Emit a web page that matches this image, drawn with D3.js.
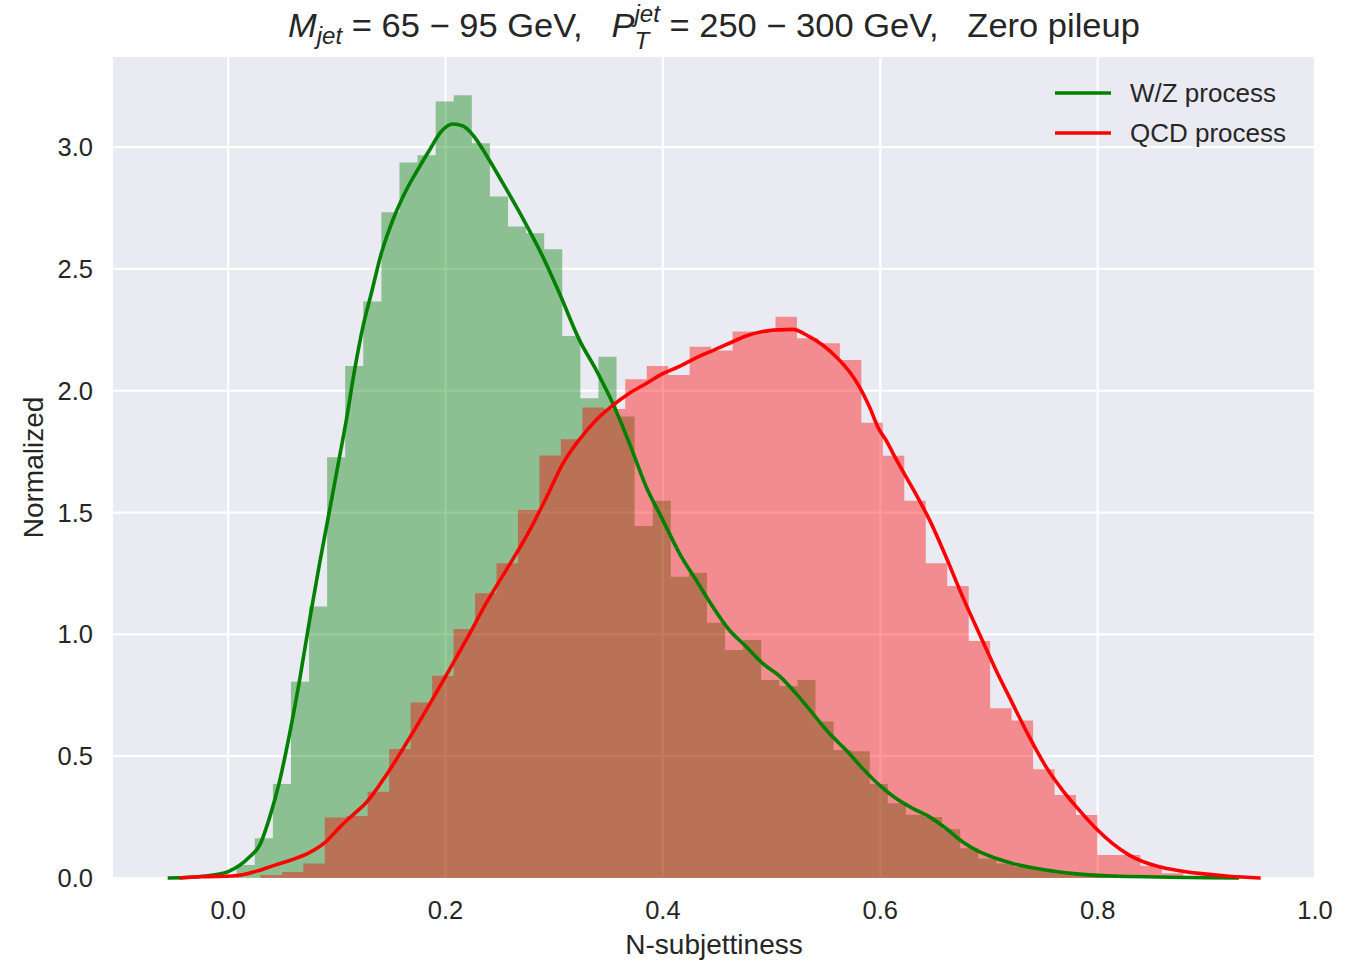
<!DOCTYPE html>
<html>
<head>
<meta charset="utf-8">
<script src="https://d3js.org/d3.v7.min.js"></script>
<style>
  body { margin: 0; background: #fff; }
</style>
</head>
<body>
<div id="chart"></div>
<script>
// W/Z process histogram (normalized), equal bins
var wzStart = 0.0078, wzWidth = 0.016644;
var wzHist = [0.053, 0.163, 0.386, 0.806, 1.114, 1.727, 2.102, 2.366, 2.733, 2.937,
              2.967, 3.187, 3.213, 3.016, 2.797, 2.674, 2.647, 2.581, 2.225, 1.969,
              2.140, 1.894, 1.445, 1.549, 1.237, 1.253, 1.048, 0.936, 0.977, 0.813,
              0.788, 0.813, 0.642, 0.525, 0.520, 0.386, 0.307, 0.260, 0.250, 0.200,
              0.122, 0.080, 0.060, 0.045, 0.035, 0.025, 0.018, 0.012, 0.008, 0.005];

// QCD process histogram
var qcdStart = 0.0296, qcdWidth = 0.01975;
var qcdHist = [0.012, 0.025, 0.060, 0.248, 0.255, 0.354, 0.530, 0.720, 0.830, 1.022,
               1.169, 1.292, 1.511, 1.734, 1.801, 1.931, 1.925, 2.047, 2.102, 2.065,
               2.181, 2.165, 2.243, 2.240, 2.304, 2.216, 2.195, 2.126, 1.869, 1.733,
               1.549, 1.292, 1.199, 0.973, 0.697, 0.646, 0.446, 0.341, 0.259, 0.094,
               0.094, 0.050, 0.020, 0.008];

// kernel density curves
var wzKdeX = [-0.0557, -0.035, -0.017, 0.0, 0.0198, 0.029, 0.0382, 0.0474, 0.0566, 0.0657,
              0.0749, 0.0841, 0.0933, 0.1025, 0.1087, 0.1163, 0.124, 0.1317, 0.1409, 0.1515,
              0.1639, 0.1761, 0.1853, 0.196, 0.2067, 0.2159, 0.2251, 0.2374, 0.2527, 0.2711,
              0.2895, 0.3048, 0.3232, 0.3386, 0.3538, 0.3692, 0.3846, 0.3998, 0.4152, 0.4305,
              0.4458, 0.4611, 0.4765, 0.4918, 0.5071, 0.5224, 0.5377, 0.5531, 0.5684, 0.5837,
              0.599, 0.6143, 0.6297, 0.645, 0.6603, 0.6756, 0.691, 0.7063, 0.7216, 0.7522,
              0.7829, 0.8136, 0.8566, 0.90, 0.93];
var wzKdeY = [0.0, 0.003, 0.010, 0.026, 0.087, 0.135, 0.25, 0.40, 0.594, 0.813,
              1.059, 1.292, 1.51, 1.73, 1.88, 2.085, 2.263, 2.40, 2.564, 2.701,
              2.824, 2.92, 2.988, 3.064, 3.095, 3.087, 3.05, 2.968, 2.852, 2.708,
              2.55, 2.40, 2.208, 2.085, 1.949, 1.784, 1.606, 1.47, 1.333, 1.223,
              1.114, 1.018, 0.95, 0.881, 0.83, 0.758, 0.676, 0.594, 0.525, 0.45,
              0.382, 0.327, 0.286, 0.252, 0.204, 0.149, 0.108, 0.081, 0.06, 0.033,
              0.016, 0.008, 0.004, 0.001, 0.0];

var qcdKdeX = [-0.045, -0.026, 0.004, 0.0276, 0.0428, 0.0581, 0.0734, 0.0889, 0.1041, 0.1163,
               0.1271, 0.1455, 0.1639, 0.1823, 0.2007, 0.219, 0.2374, 0.2558, 0.2742, 0.2926,
               0.3078, 0.3232, 0.3386, 0.3538, 0.3692, 0.3846, 0.3998, 0.4152, 0.4305, 0.4458,
               0.4611, 0.4765, 0.4918, 0.5071, 0.5193, 0.5347, 0.5469, 0.5593, 0.5715, 0.5807,
               0.5899, 0.5991, 0.6052, 0.6144, 0.6297, 0.6453, 0.6604, 0.6757, 0.691, 0.7064,
               0.7216, 0.737, 0.7524, 0.7676, 0.783, 0.7983, 0.8136, 0.829, 0.8566, 0.875,
               0.8933, 0.9209, 0.95];
var qcdKdeY = [0.0, 0.005, 0.008, 0.030, 0.053, 0.074, 0.101, 0.145, 0.215, 0.265,
               0.31, 0.423, 0.553, 0.69, 0.833, 0.977, 1.128, 1.264, 1.401, 1.56,
               1.70, 1.80, 1.88, 1.94, 1.99, 2.03, 2.07, 2.10, 2.135, 2.165,
               2.195, 2.225, 2.243, 2.25, 2.252, 2.222, 2.188, 2.14, 2.079, 2.017,
               1.935, 1.839, 1.798, 1.72, 1.60, 1.47, 1.319, 1.155, 1.004, 0.854,
               0.717, 0.58, 0.457, 0.361, 0.279, 0.204, 0.142, 0.094, 0.046, 0.03,
               0.019, 0.007, 0.0];

var xTicks = [0.0, 0.2, 0.4, 0.6, 0.8, 1.0];
var yTicks = [0.0, 0.5, 1.0, 1.5, 2.0, 2.5, 3.0];
var seriesNames = ["W/Z process", "QCD process"];
var seriesColors = ["green", "red"];

var svg = d3.select("#chart").append("svg")
  .attr("width", 1363)
  .attr("height", 961);

var margin = {top: 57, right: 48, bottom: 83, left: 113};
var width = 1363 - margin.left - margin.right;
var height = 961 - margin.top - margin.bottom;

var x = d3.scaleLinear().domain([-0.106, 1.0]).range([0, width]);
var y = d3.scaleLinear().domain([0, 3.37]).range([height, 0]);

var g = svg.append("g")
  .attr("transform", "translate(" + margin.left + "," + margin.top + ")");

// background + grid
g.append("rect")
  .attr("width", width)
  .attr("height", height)
  .attr("fill", "#eaeaf2");

g.selectAll(".vgrid")
  .data(xTicks)
  .enter().append("line")
  .attr("x1", d => x(d)).attr("x2", d => x(d))
  .attr("y1", 0).attr("y2", height)
  .attr("stroke", "#fff").attr("stroke-width", 2.2);

g.selectAll(".hgrid")
  .data(yTicks)
  .enter().append("line")
  .attr("x1", 0).attr("x2", width)
  .attr("y1", d => y(d)).attr("y2", d => y(d))
  .attr("stroke", "#fff").attr("stroke-width", 2.2);

// histogram as a step outline so bars have no seams
function histPoints(start, w, vals) {
  var pts = vals.map((v, i) => [start + i * w, v]);
  pts.push([start + vals.length * w, vals[vals.length - 1]]);
  return pts;
}

var histArea = d3.area()
  .x(d => x(d[0]))
  .y0(y(0))
  .y1(d => y(d[1]))
  .curve(d3.curveStepAfter);

g.append("path")
  .datum(histPoints(wzStart, wzWidth, wzHist))
  .attr("d", histArea)
  .attr("fill", "green")
  .attr("fill-opacity", 0.4);

g.append("path")
  .datum(histPoints(qcdStart, qcdWidth, qcdHist))
  .attr("d", histArea)
  .attr("fill", "red")
  .attr("fill-opacity", 0.4);

// kde lines
var kdeLine = d3.line()
  .x(d => x(d[0]))
  .y(d => y(d[1]))
  .curve(d3.curveMonotoneX);

g.append("path")
  .datum(d3.zip(wzKdeX, wzKdeY))
  .attr("d", kdeLine)
  .attr("fill", "none")
  .attr("stroke", "green")
  .attr("stroke-width", 3.6)
  .attr("stroke-linejoin", "round");

g.append("path")
  .datum(d3.zip(qcdKdeX, qcdKdeY))
  .attr("d", kdeLine)
  .attr("fill", "none")
  .attr("stroke", "red")
  .attr("stroke-width", 3.6)
  .attr("stroke-linejoin", "round");

// tick labels
var font = "'Liberation Sans', Arial, sans-serif";
g.selectAll(".xt")
  .data(xTicks)
  .enter().append("text")
  .attr("x", d => x(d))
  .attr("y", height + 41)
  .attr("text-anchor", "middle")
  .style("font-family", font)
  .style("font-size", "25.5px")
  .style("fill", "#262626")
  .text(d => d.toFixed(1));

g.selectAll(".yt")
  .data(yTicks)
  .enter().append("text")
  .attr("x", -20)
  .attr("y", d => y(d) + 9)
  .attr("text-anchor", "end")
  .style("font-family", font)
  .style("font-size", "25.5px")
  .style("fill", "#262626")
  .text(d => d.toFixed(1));

// axis labels
svg.append("text")
  .attr("x", margin.left + width / 2)
  .attr("y", 954)
  .attr("text-anchor", "middle")
  .style("font-family", font)
  .style("font-size", "28px")
  .style("fill", "#262626")
  .text("N-subjettiness");

svg.append("text")
  .attr("transform", "translate(43," + (margin.top + height / 2) + ") rotate(-90)")
  .attr("text-anchor", "middle")
  .style("font-family", font)
  .style("font-size", "28px")
  .style("fill", "#262626")
  .text("Normalized");

// legend
var legend = svg.append("g");
seriesNames.forEach(function(name, i) {
  var ly = 93 + i * 40;
  legend.append("line")
    .attr("x1", 1055).attr("x2", 1111)
    .attr("y1", ly).attr("y2", ly)
    .attr("stroke", seriesColors[i])
    .attr("stroke-width", 3.6);
  legend.append("text")
    .attr("x", 1130)
    .attr("y", ly + 9)
    .style("font-family", font)
    .style("font-size", "26px")
    .style("fill", "#262626")
    .text(name);
});

// title with math-like sub/superscripts
var titleParts = [
  {t: "M", it: true, s: 1, dy: 0},
  {t: "jet", it: true, s: 0.7, dy: 7},
  {t: " = 65 \u2212 95 GeV,   ", it: false, s: 1, dy: 0},
  {t: "P", it: true, s: 1, dy: 0},
  {t: "T", it: true, s: 0.7, dy: 12, stack: "start"},
  {t: "jet", it: true, s: 0.7, dy: -15, stack: "end"},
  {t: " = 250 \u2212 300 GeV,   Zero pileup", it: false, s: 1, dy: 0}
];
var titleSize = 33;
var tg = svg.append("g");
var cursor = 0, stackX = 0, stackW = 0;
titleParts.forEach(function(p) {
  var px = cursor;
  if (p.stack === "end") px = stackX;
  var t = tg.append("text")
    .attr("x", px)
    .attr("y", p.dy)
    .style("font-family", font)
    .style("font-size", (titleSize * p.s) + "px")
    .style("font-style", p.it ? "italic" : "normal")
    .style("white-space", "pre")
    .style("fill", "#262626")
    .text(p.t);
  var w = t.node().getComputedTextLength();
  if (p.stack === "start") { stackX = px; stackW = w; cursor = px + w; }
  else if (p.stack === "end") { cursor = px + Math.max(w, stackW); }
  else cursor = px + w;
});
var tw = cursor;
var sx = 852 / tw;
tg.attr("transform", "translate(" + (714 - 426) + ",37) scale(" + sx + ",1)");
</script>
</body>
</html>
